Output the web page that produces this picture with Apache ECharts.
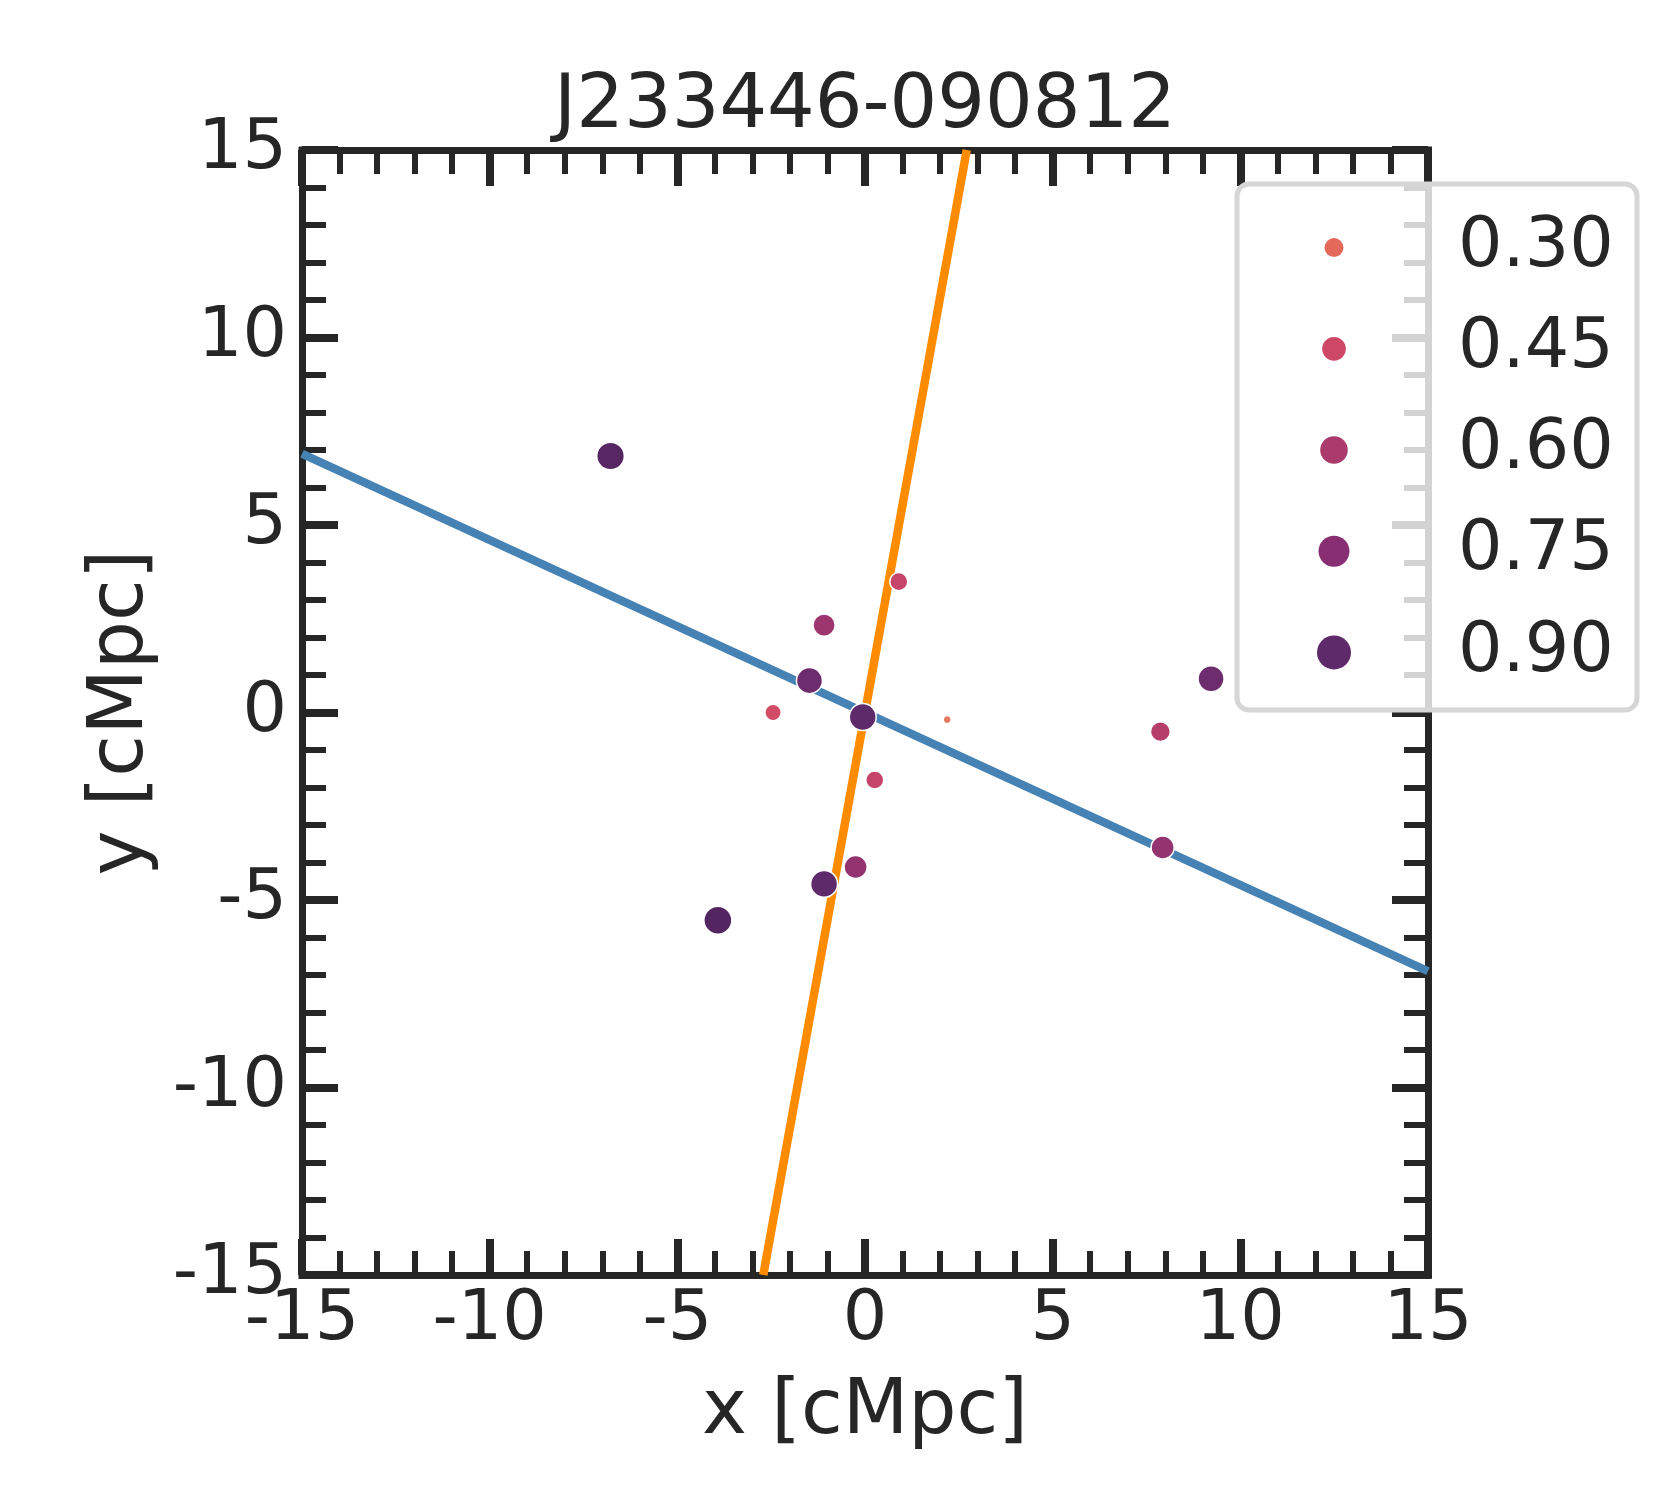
<!DOCTYPE html>
<html>
<head>
<meta charset="utf-8">
<script src="https://cdn.jsdelivr.net/npm/echarts@6/dist/echarts.min.js"></script>
<style>
	html, body { margin: 0; padding: 0; background: #fff; }
	#chart { width: 1680px; height: 1500px; }
</style>
</head>
<body>
<div id="chart"></div>
<script>
// scatter points: x, y [cMpc] and the hue/size value
var pointX = [-6.78, 0.90, -1.09, -1.48, -2.45, -0.06, 2.19, 0.26, 7.87, 9.22, 7.93, -0.25, -1.09, -3.92];
var pointY = [6.84, 3.49, 2.33, 0.85, 0.00, -0.12, -0.19, -1.80, -0.51, 0.90, -3.60, -4.12, -4.57, -5.54];
var pointZ = [0.94, 0.49, 0.66, 0.85, 0.43, 0.90, 0.22, 0.49, 0.56, 0.85, 0.70, 0.70, 0.90, 0.96];

// the two straight lines (end points in data units)
var blueLine = [[-15, 6.9], [15, -6.9]];
var orangeLine = [[-2.71, -15], [2.71, 15]];

// legend entries
var legendValues = [0.30, 0.45, 0.60, 0.75, 0.90];
var legendLabels = ['0.30', '0.45', '0.60', '0.75', '0.90'];

var palette = ['#ea8a67', '#e4695b', '#cf4767', '#ab3b6d', '#872f72', '#5f2a6a', '#401f55'];

var ink = '#262626';
var font = 'DejaVu Sans';

function frameAxis(pos, withLabel) {
	return {
		type: 'value',
		position: pos,
		min: -15,
		max: 15,
		interval: 5,
		axisLine: { show: true, onZero: false, lineStyle: { color: ink, width: 7, cap: 'square' } },
		axisTick: { show: true, inside: true, length: 36, lineStyle: { color: ink, width: 8 } },
		minorTick: { show: true, splitNumber: 5, length: 24, lineStyle: { color: ink, width: 6 } },
		splitLine: { show: false },
		minorSplitLine: { show: false },
		axisLabel: {
			show: withLabel,
			color: ink,
			fontFamily: font,
			fontSize: 70
		}
	};
}

var chart = echarts.init(document.getElementById('chart'));

var xBottom = frameAxis('bottom', true);
xBottom.axisLabel.margin = 11;
xBottom.name = 'x [cMpc]';
xBottom.nameLocation = 'middle';
xBottom.nameGap = 100;
xBottom.nameTextStyle = { color: ink, fontFamily: font, fontSize: 76 };

var yLeft = frameAxis('left', true);
yLeft.axisLabel.margin = 15;
yLeft.name = 'y [cMpc]';
yLeft.nameLocation = 'middle';
yLeft.nameGap = 142;
yLeft.nameTextStyle = { color: ink, fontFamily: font, fontSize: 76 };

var option = {
	backgroundColor: '#fff',
	animation: false,
	title: {
		text: 'J233446-090812',
		left: 865,
		top: 70,
		padding: 0,
		textAlign: 'center',
		textStyle: { color: ink, fontFamily: font, fontSize: 75, fontWeight: 'normal' }
	},
	grid: [
		{ left: 302, top: 150, width: 1126, height: 1125 },
		{ left: 1300, top: 197, width: 68, height: 506 }
	],
	xAxis: [
		xBottom,
		frameAxis('top', false),
		{ gridIndex: 1, type: 'value', min: -1, max: 1, show: false }
	],
	yAxis: [
		yLeft,
		frameAxis('right', false),
		{
			gridIndex: 1,
			type: 'category',
			data: legendLabels,
			inverse: true,
			position: 'right',
			z: 10,
			axisLine: { show: false },
			axisTick: { show: false },
			splitLine: { show: false },
			axisLabel: { color: ink, fontFamily: font, fontSize: 70, margin: 90 }
		}
	],
	visualMap: [{
		type: 'continuous',
		show: false,
		dimension: 2,
		seriesIndex: [2, 3],
		min: 0.15,
		max: 1.05,
		inRange: { color: palette }
	}],
	graphic: [{
		type: 'rect',
		z: 5,
		shape: { x: 1237, y: 184, width: 400, height: 526, r: 12 },
		style: { fill: 'rgba(255,255,255,0.8)', stroke: '#d6d6d6', lineWidth: 5 }
	}],
	series: [{
		name: 'blue',
		type: 'line',
		z: 2,
		showSymbol: false,
		silent: true,
		lineStyle: { color: '#4682b4', width: 8.5 },
		data: blueLine
	}, {
		name: 'orange',
		type: 'line',
		z: 2,
		showSymbol: false,
		silent: true,
		lineStyle: { color: '#ff8c00', width: 8.5 },
		data: orangeLine
	}, {
		name: 'points',
		type: 'scatter',
		z: 3,
		symbol: 'circle',
		symbolSize: function(d) {
			return Math.sqrt(Math.max(16, 973 * d[2] - 150));
		},
		itemStyle: { borderColor: '#fff', borderWidth: 1.5, opacity: 1 },
		data: pointX.map(function(x, i) {
			return [x, pointY[i], pointZ[i]];
		})
	}, {
		name: 'legend',
		type: 'scatter',
		xAxisIndex: 2,
		yAxisIndex: 2,
		z: 10,
		symbol: 'circle',
		symbolSize: function(d) {
			return Math.sqrt(1325 * d[2] - 36.5);
		},
		itemStyle: { opacity: 1 },
		data: legendValues.map(function(v, i) {
			return [0, i, v];
		})
	}]
};

chart.setOption(option);
</script>
</body>
</html>
